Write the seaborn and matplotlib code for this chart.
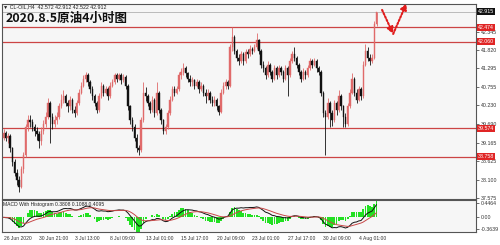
import numpy as np
import pandas as pd
import matplotlib
matplotlib.use('Agg')
import matplotlib.pyplot as plt
import matplotlib.transforms as mtransforms
import seaborn as sns

# ---------------- data ----------------
first_open = 39.30
closes = [
    39.45, 39.30, 39.35, 39.00, 38.60, 38.30, 38.10, 37.90, 38.40, 38.80,
    39.60, 39.80, 39.75, 39.60, 39.50, 39.40, 39.20, 39.50, 39.70, 39.90,
    40.30, 39.90, 39.70, 39.80, 39.90, 40.20, 40.40, 40.50, 40.30, 40.20,
    40.40, 40.10, 40.00, 40.30, 40.60, 40.80, 41.00, 41.10, 40.90, 40.70,
    40.50, 40.30, 40.10, 40.50, 40.80, 40.60, 40.70, 40.50, 40.80, 40.90,
    41.10, 41.00, 41.10, 40.95, 41.05, 40.80, 40.20, 39.80, 39.60, 39.30,
    39.00, 38.95, 39.80, 40.60, 40.50, 40.30, 40.10, 40.40, 40.00, 40.60,
    40.10, 39.80, 39.50, 39.60, 40.00, 40.40, 40.70, 40.60, 40.70, 41.10,
    41.20, 41.30, 41.15, 41.00, 40.90, 40.95, 40.80, 40.90, 40.70, 40.80,
    40.60, 40.50, 40.60, 40.40, 40.30, 40.40, 40.20, 40.05, 40.60, 40.80,
    40.90, 40.80, 41.90, 42.20, 41.80, 41.60, 41.50, 41.70, 41.50, 41.75,
    41.70, 41.85, 41.80, 41.90, 42.10, 41.80, 41.40, 41.30, 41.10, 41.40,
    41.20, 41.00, 41.30, 41.10, 41.30, 41.20, 41.00, 41.30, 41.10, 41.50,
    41.70, 41.60, 41.40, 41.20, 41.00, 41.20, 41.10, 41.30, 41.50, 41.40,
    41.50, 41.30, 41.20, 40.60, 40.00, 39.90, 40.30, 40.00, 39.80, 40.30,
    40.10, 40.50, 40.20, 39.90, 39.70, 40.20, 40.60, 41.00, 40.60, 40.40,
    40.70, 40.50, 41.40, 41.80, 41.60, 41.50, 41.60, 42.572, 42.912,
]
highs = [
    39.55, 39.50, 39.45, 39.40, 39.05, 38.70, 38.40, 38.20, 38.50, 38.90,
    39.70, 39.95, 39.95, 39.85, 39.70, 39.60, 39.50, 39.60, 39.80, 40.05,
    40.45, 40.35, 40.00, 39.95, 40.05, 40.30, 40.55, 40.67, 40.55, 40.40,
    40.50, 40.45, 40.20, 40.40, 40.70, 40.90, 41.10, 41.20, 41.15, 40.95,
    40.80, 40.55, 40.35, 40.60, 40.90, 40.85, 40.80, 40.75, 40.90, 41.00,
    41.15, 41.15, 41.15, 41.15, 41.12, 41.10, 40.85, 40.25, 39.90, 39.70,
    39.40, 39.10, 39.90, 40.90, 40.75, 40.55, 40.35, 40.50, 40.45, 40.90,
    40.65, 40.15, 39.85, 39.70, 40.10, 40.50, 40.80, 40.80, 40.80, 41.20,
    41.30, 41.45, 41.35, 41.20, 41.10, 41.05, 41.00, 41.00, 40.95, 40.90,
    40.85, 40.70, 40.70, 40.65, 40.50, 40.50, 40.45, 40.25, 40.70, 40.90,
    41.00, 40.95, 42.00, 42.47, 42.25, 41.85, 41.70, 41.80, 41.75, 41.85,
    41.85, 41.95, 41.90, 42.00, 42.30, 42.15, 41.85, 41.50, 41.35, 41.50,
    41.45, 41.25, 41.40, 41.35, 41.40, 41.35, 41.25, 41.40, 41.35, 41.60,
    41.80, 41.90, 41.65, 41.45, 41.25, 41.30, 41.25, 41.40, 41.60, 41.55,
    41.60, 41.55, 41.35, 41.25, 40.65, 40.10, 40.45, 40.35, 40.10, 40.40,
    40.35, 40.67, 40.55, 40.25, 40.00, 40.30, 40.70, 41.15, 41.05, 40.70,
    40.80, 40.75, 41.50, 42.00, 41.90, 41.70, 41.70, 42.65, 42.912,
]
lows = [
    39.25, 39.20, 39.15, 38.90, 38.50, 38.20, 37.95, 37.75, 37.85, 38.30,
    38.75, 39.50, 39.60, 39.50, 39.35, 39.25, 39.00, 39.10, 39.40, 39.60,
    39.85, 39.15, 39.55, 39.60, 39.70, 39.85, 40.15, 40.30, 40.20, 40.05,
    40.10, 40.00, 39.90, 39.95, 40.25, 40.55, 40.75, 40.90, 40.80, 40.60,
    40.40, 40.20, 40.00, 40.05, 40.45, 40.50, 40.55, 40.40, 40.45, 40.75,
    40.85, 40.90, 40.95, 40.85, 40.90, 40.70, 40.10, 39.70, 39.50, 39.20,
    38.90, 38.81, 38.90, 39.75, 40.35, 40.20, 40.00, 40.05, 39.90, 39.95,
    40.00, 39.70, 39.40, 39.40, 39.55, 39.95, 40.35, 40.50, 40.55, 40.65,
    41.00, 41.10, 41.05, 40.90, 40.80, 40.80, 40.70, 40.75, 40.60, 40.65,
    40.50, 40.30, 40.40, 40.30, 40.20, 40.20, 40.10, 39.95, 40.00, 40.55,
    40.70, 40.70, 40.75, 41.80, 41.70, 41.50, 41.40, 41.45, 41.40, 41.45,
    41.60, 41.65, 41.70, 41.75, 41.85, 41.70, 41.30, 41.20, 41.00, 41.05,
    41.10, 40.90, 40.95, 41.00, 41.05, 41.10, 40.90, 40.95, 40.50, 41.05,
    41.45, 41.50, 41.30, 41.10, 40.90, 40.95, 41.00, 41.05, 41.25, 41.30,
    41.35, 41.20, 41.10, 40.50, 39.90, 38.81, 39.85, 39.60, 39.65, 39.75,
    39.95, 40.05, 40.10, 39.60, 39.60, 39.65, 40.15, 40.55, 40.50, 40.30,
    40.35, 40.40, 40.45, 41.35, 41.50, 41.40, 41.45, 41.55, 42.522,
]
header_text = "\u25bc CL-OIL,H4  42.572 42.912 42.522 42.912"
title_text = "2020.8.5原油4小时图"
level_prices = [42.474, 42.060, 39.574, 38.758]
current_price = 42.915
price_ticks = [42.345, 41.820, 41.295, 40.755, 40.230, 39.690, 39.165, 38.625, 38.100, 37.575]
price_tick_labels = ["42.345", "41.820", "41.295", "40.755", "40.230", "39.690",
                     "39.165", "38.625", "38.100", "37.575"]
time_labels = ["26 Jun 2020", "30 Jun 21:00", "3 Jul 13:00", "8 Jul 09:00", "13 Jul 01:00",
               "15 Jul 17:00", "20 Jul 09:00", "23 Jul 01:00", "27 Jul 17:00", "30 Jul 09:00",
               "4 Aug 01:00"]
bars_per_label = 16
macd_ticks = [0.4464, 0.0, -0.3639]
macd_tick_labels = ["0.4464", "0.00", "-0.3639"]
macd_title = "MACD With Histogram 0.3808 0.1088 0.4095"
# hand-drawn forecast arrow (bar index, price)
arrow_path = [(170.5, 42.97), (175.5, 42.28), (181.5, 43.16)]

# ---------------- build ----------------
sns.set_theme(style="white")
plt.rcParams["font.family"] = ["Liberation Sans", "DejaVu Sans"]

c = np.array(closes)
o = np.r_[first_open, c[:-1]]
h = np.maximum(np.array(highs), np.maximum(o, c))
l = np.minimum(np.array(lows), np.minimum(o, c))
idx = np.arange(len(c))
up = c >= o

bg = "#f6f6f6"
bull = "#e06a6a"
bear = "#111111"

fig = plt.figure(figsize=(5.0, 2.45), dpi=100)
fig.patch.set_facecolor("white")
W, H = 500.0, 245.0
ax = fig.add_axes([2 / W, 1 - 199 / H, 474 / W, 195 / H])
axm = fig.add_axes([2 / W, 1 - 232 / H, 474 / W, 32 / H])
for a in (ax, axm):
    a.set_facecolor(bg)
    for s in a.spines.values():
        s.set_color("#555555")
        s.set_linewidth(0.8)

xlim = (-0.68, 212.8)

# candles
cols = np.where(up, bull, bear)
ax.vlines(idx, l, h, colors=cols, linewidth=0.6, zorder=3)
body_lo = np.minimum(o, c)
body_h = np.maximum(np.abs(c - o), 0.02)
ax.bar(idx, body_h, bottom=body_lo, width=0.62, color=cols, edgecolor=cols,
       linewidth=0.3, zorder=4)

# levels
for p in level_prices:
    ax.axhline(p, color="#cc4444", linewidth=0.9, zorder=2)
ax.axhline(current_price, color="#bbbbbb", linewidth=0.7, zorder=2)

ax.set_xlim(*xlim)
ax.set_ylim(37.546, 43.14)
ax.set_xticks([])
ax.yaxis.tick_right()
ax.set_yticks(price_ticks)
ax.set_yticklabels(price_tick_labels)
ax.tick_params(axis="y", length=2, width=0.5, pad=1.5, labelsize=3.8,
               colors="#333333", direction="out")

trans = mtransforms.blended_transform_factory(ax.transAxes, ax.transData)
for p in level_prices:
    ax.text(1.004, p, f"{p:.3f}", transform=trans, fontsize=3.8, color="white",
            va="center", ha="left", clip_on=False, zorder=10,
            bbox=dict(facecolor="#e02525", edgecolor="none", pad=0.7))
ax.text(1.004, current_price, f"{current_price:.3f}", transform=trans, fontsize=3.8,
        color="white", va="center", ha="left", clip_on=False, zorder=10,
        bbox=dict(facecolor="#111111", edgecolor="none", pad=0.7))

# header and title
ax.text(0.003, 0.985, header_text, transform=ax.transAxes, fontsize=3.8,
        color="#222222", va="center", ha="left")
ax.text(0.007, 0.928, title_text, transform=ax.transAxes, fontsize=9,
        fontweight="bold", color="#111111", va="center", ha="left",
        family=["Noto Sans CJK SC", "DejaVu Sans"])

# forecast arrow
for (x0, y0), (x1, y1) in zip(arrow_path[:-1], arrow_path[1:]):
    ax.annotate("", xy=(x1, y1), xytext=(x0, y0), annotation_clip=False,
                arrowprops=dict(arrowstyle="-|>,head_length=0.3,head_width=0.15",
                                color="#e01b1b", lw=1.5, linestyle=(0, (0.8, 0.9)),
                                shrinkA=0, shrinkB=0))

# MACD
cs = pd.Series(c)
macd = cs.ewm(span=12, adjust=False).mean() - cs.ewm(span=26, adjust=False).mean()
signal = macd.ewm(span=9, adjust=False).mean()
hist = (macd - signal) * 2
axm.bar(idx, hist.values, width=0.8, color="#22e022", edgecolor="none", zorder=2)
mdf = pd.DataFrame({"i": idx, "macd": macd.values, "signal": signal.values})
sns.lineplot(data=mdf, x="i", y="macd", ax=axm, color="#111111", linewidth=0.7, zorder=3)
sns.lineplot(data=mdf, x="i", y="signal", ax=axm, color="#c84848", linewidth=0.7, zorder=3)
axm.set_xlim(*xlim)
axm.set_ylim(-0.474, 0.558)
axm.set_xlabel("")
axm.set_ylabel("")
axm.yaxis.tick_right()
axm.set_yticks(macd_ticks)
axm.set_yticklabels(macd_tick_labels)
axm.tick_params(axis="y", length=2, width=0.5, pad=1.5, labelsize=3.8,
                colors="#333333", direction="out")
axm.set_xticks(np.arange(len(time_labels)) * bars_per_label)
axm.set_xticklabels(time_labels)
axm.tick_params(axis="x", length=2, width=0.5, pad=1.0, labelsize=3.6,
                colors="#333333", direction="out")
for t in axm.get_xticklabels():
    t.set_ha("left")
axm.text(0.003, 0.87, macd_title, transform=axm.transAxes, fontsize=3.6,
         color="#222222", va="center", ha="left")

fig.savefig("out.png", dpi=100, facecolor="white")
